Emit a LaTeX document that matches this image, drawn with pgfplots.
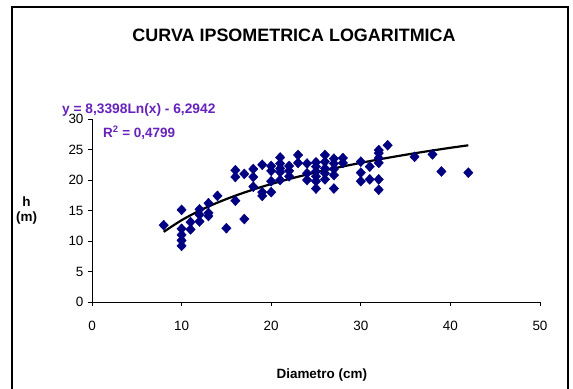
\documentclass[border=0pt]{standalone}
\usepackage{pgfplots}
\pgfplotsset{compat=1.18}
\usepackage{fontspec}
\setmainfont{Liberation Sans}
\definecolor{navymark}{RGB}{0,0,128}
\definecolor{eqpurple}{RGB}{102,34,187}
\begin{document}
\begin{tikzpicture}
\useasboundingbox (-92bp,-87bp) rectangle (481bp,302bp);
\begin{axis}[
  scale only axis,
  width=448bp, height=183bp,
  at={(0,0)}, anchor=south west,
  xmin=0, xmax=50, ymin=0, ymax=30,
  xtick={0,10,20,30,40,50},
  ytick={0,5,10,15,20,25,30},
  axis x line*=bottom, axis y line*=left,
  axis line style={line width=0.8bp, black},
  tick align=outside,
  major tick length=4bp,
  tick style={line width=0.8bp, black},
  /pgf/number format/assume math mode=true,
  ticklabel style={font=\fontsize{13.5}{15}\selectfont},
  xticklabel style={yshift=-12bp},
  yticklabel style={xshift=-1bp},
  clip=false,
]
\addplot[only marks, mark=diamond*, mark size=5bp, color=navymark,
  mark options={xscale=1.25, fill=navymark, draw=navymark}] table {
x y
8 12.6
10 15.1
10 12.0
10 11.0
10 10.1
10 9.2
11 13.1
11 11.9
12 15.2
12 14.3
12 13.2
13 16.2
13 14.6
13 14.1
14 17.4
15 12.1
16 21.6
16 20.5
16 16.6
17 21.0
17 13.6
18 21.8
18 20.5
18 18.9
19 22.5
19 18.0
19 17.4
20 22.3
20 21.5
20 19.8
20 18.0
21 23.7
21 22.7
21 21.9
21 21.3
21 20.0
22 22.3
22 21.5
22 20.6
23 24.1
23 22.8
24 22.7
24 21.1
24 20.0
25 22.9
25 22.2
25 21.4
25 20.6
25 19.8
25 18.6
26 24.1
26 23.0
26 21.9
26 21.1
26 20.1
27 23.5
27 22.7
27 21.8
27 20.8
27 18.6
28 23.6
28 22.8
30 23.0
30 21.2
30 19.8
31 22.2
31 20.1
32 24.9
32 24.4
32 23.6
32 22.8
32 20.1
32 18.4
33 25.7
36 23.8
38 24.2
39 21.4
42 21.2
};
\addplot[black, line width=2.2bp, smooth, no marks] coordinates {
(8,11.50) (10,13.41) (12,14.97) (14,16.29) (16,17.43) (18,18.44)
(20,19.34) (22,20.16) (24,20.90) (26,21.59) (28,22.22) (30,22.81)
(32,23.37) (34,23.89) (36,24.38) (38,24.84) (40,25.28) (42,25.69)
};
\node[font=\bfseries\fontsize{18}{20}\selectfont] at (rel axis cs:0.451,1.459) {CURVA IPSOMETRICA LOGARITMICA};
\node[font=\bfseries\fontsize{13.5}{15}\selectfont] at (rel axis cs:0.513,-0.399) {Diametro (cm)};
\node[font=\bfseries\fontsize{13.5}{15}\selectfont] at (rel axis cs:-0.146,0.548) {h};
\node[font=\bfseries\fontsize{13.5}{15}\selectfont] at (rel axis cs:-0.146,0.459) {(m)};
\node[font=\bfseries\fontsize{13.8}{15}\selectfont, text=eqpurple, anchor=west, inner sep=0pt] at (rel axis cs:-0.067,1.050) {y = 8,3398Ln(x) - 6,2942};
\node[font=\bfseries\fontsize{13.5}{15}\selectfont, text=eqpurple, anchor=west, inner sep=0pt] at (rel axis cs:0.0246,0.923) {R$^{\mathbf{2}}$ = 0,4799};
\end{axis}
\draw[line width=1.2bp, black] (-80bp,-95bp) rectangle (476bp,295bp);
\end{tikzpicture}
\end{document}
